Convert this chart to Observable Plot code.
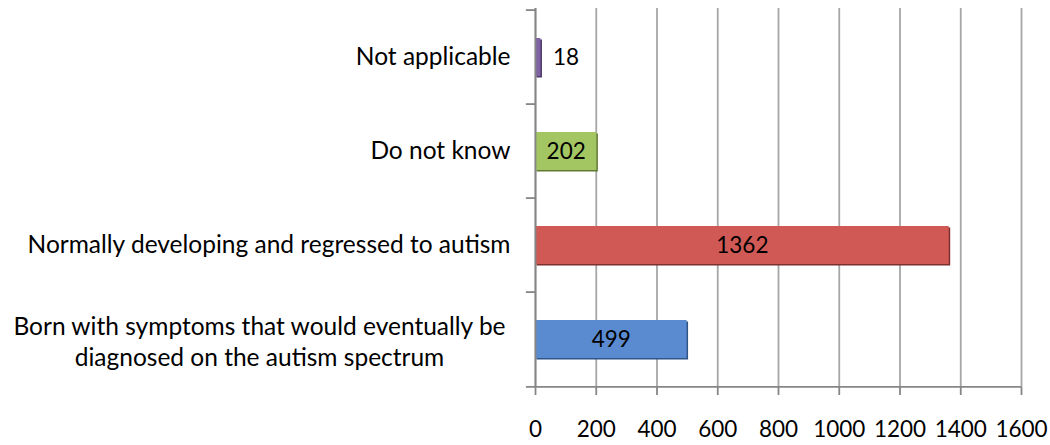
<!DOCTYPE html>
<html>
<head>
<meta charset="utf-8">
<script src="https://cdn.jsdelivr.net/npm/d3@7"></script>
<script src="https://cdn.jsdelivr.net/npm/@observablehq/plot@0.6"></script>
<style>
  html, body { margin: 0; padding: 0; background: #fff; }
  #chart svg { display: block; }
</style>
</head>
<body>
<div id="chart"></div>
<script>
const categories = [
  "Not applicable",
  "Do not know",
  "Normally developing and regressed to autism",
  "Born with symptoms that would eventually be\ndiagnosed on the autism spectrum"
];
const values = [18, 202, 1362, 499];
const colors = ["#7e62a3", "#a3c662", "#d05956", "#5a8bd0"];
const edgeColors = ["#4e3a68", "#5f7a33", "#7d302e", "#2f5485"];
const xTicks = [0, 200, 400, 600, 800, 1000, 1200, 1400, 1600];

const data = categories.map((c, i) => ({category: c, value: values[i], color: colors[i], edge: edgeColors[i]}));
const font = "Lato, 'Open Sans', sans-serif";

const chart = Plot.plot({
  width: 1050,
  height: 445,
  marginLeft: 535,
  marginRight: 29,
  marginTop: 8,
  marginBottom: 58,
  style: {fontFamily: font, fontSize: "20px", color: "#000", background: "#fff"},
  x: {domain: [0, 1600], ticks: xTicks},
  y: {domain: categories, paddingInner: 0.6, paddingOuter: 0.3},
  marks: [
    Plot.gridX(xTicks, {stroke: "#a6a6a6", strokeOpacity: 1, strokeWidth: 1.8}),
    // bevel shadow (right/bottom edge)
    Plot.barX(data, {y: "category", x: "value", fill: "edge", dx: 1.5, dy: 1.5}),
    Plot.barX(data, {y: "category", x: "value", fill: "color"}),
    // category boundary ticks on the left axis
    Plot.ruleY(categories, {y: d => d, x1: -30, x2: 0, dy: -47.4, stroke: "#868686", strokeWidth: 1.8}),
    Plot.ruleY(categories.slice(-1), {y: d => d, x1: -30, x2: 1600, dy: 47.4, stroke: "#868686", strokeWidth: 1.8}),
    Plot.ruleX([0], {stroke: "#868686", strokeWidth: 1.8}),
    Plot.axisX({ticks: xTicks, tickFormat: d => String(d), tickSize: 8, tickPadding: 26, stroke: "#868686", strokeWidth: 1.8, fontSize: 22.5, label: null, color: "#000"}),
    Plot.axisY({ticks: categories.slice(0, 3), tickSize: 0, tickPadding: 25, fontSize: 24.5, label: null}),
    Plot.axisY({ticks: categories.slice(3), tickSize: 0, tickPadding: 0, dx: -276, dy: 1, textAnchor: "middle", lineHeight: 1.25, fontSize: 24.5, label: null}),
    Plot.text(data.filter(d => d.value >= 100), {y: "category", x: d => d.value / 2, text: d => String(d.value), fontSize: 22.5, fill: "#000"}),
    Plot.text(data.filter(d => d.value < 100), {y: "category", x: "value", text: d => String(d.value), dx: 12, textAnchor: "start", fontSize: 22.5, fill: "#000"})
  ]
});
document.getElementById("chart").append(chart);
</script>
</body>
</html>
